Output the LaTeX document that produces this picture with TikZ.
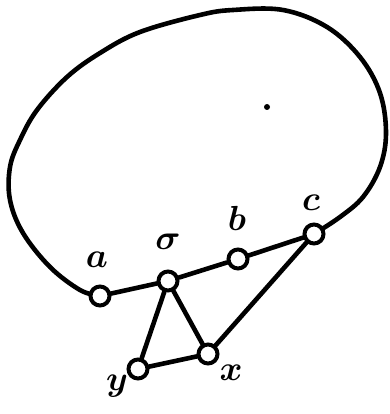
\documentclass[tikz,border=0pt]{standalone}
\usepackage{amsmath}
\usepackage{bm}
\usetikzlibrary{backgrounds}

\begin{document}
\begin{tikzpicture}[x=1pt,y=-1pt,
  vtx/.style={circle,draw,line width=4pt,fill=white,minimum size=19pt,inner sep=0pt},
  lbl/.style={inner sep=0pt,font=\Huge,scale=1.4},
  edge/.style={line width=4.6pt,line cap=round,line join=round}]
\useasboundingbox (0,0) rectangle (389,414);
% vertices
\node[vtx] (a) at (100,296) {};
\node[vtx] (o) at (168,281) {};
\node[vtx] (b) at (238,259) {};
\node[vtx] (c) at (314,234) {};
\node[vtx] (x) at (208,354) {};
\node[vtx] (y) at (138,369) {};
% labels
\node[lbl] (la) at (97,260) {$\bm{a}$};
\node[lbl] (lo) at (168,242) {$\bm{\sigma}$};
\node[lbl] (lb) at (237,218) {$\bm{b}$};
\node[lbl] (lc) at (311,203) {$\bm{c}$};
\node[lbl] (lx) at (231,373) {$\bm{x}$};
\node[lbl] (ly) at (117,386) {$\bm{y}$};
% the point inside
\fill (267,107) circle (3pt);
\begin{scope}[on background layer]
\draw[edge] (a) -- (o) -- (b) -- (c);
\draw[edge] (o) -- (y) -- (x) -- (o);
\draw[edge] (x) -- (c);
\draw[edge] plot[smooth,tension=0.6] coordinates {(a) (80,290) (50,267) (23,233) (10,200)
  (10,167) (20,140) (37,110) (67,77) (100,53) (140,32) (200,15) (233,10) (283,10)
  (327,27) (360,57) (380,93) (386,133) (380,167) (363,197) (340,217) (c)};
\end{scope}
\end{tikzpicture}
\end{document}
